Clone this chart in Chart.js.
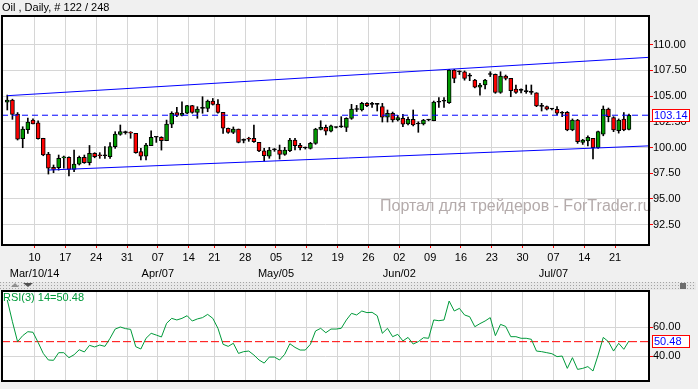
<!DOCTYPE html>
<html>
<head>
<meta charset="utf-8">
<script src="https://cdn.jsdelivr.net/npm/chart.js@4.4.1/dist/chart.umd.min.js"></script>
<style>
  body { margin:0; background:#f0f0f0; width:698px; height:389px; overflow:hidden; position:relative; }
  canvas { position:absolute; left:0; }
  #main { top:0; }
  #rsi { top:283px; }
  #sep { position:absolute; left:0; top:282px; width:696px; height:8px; background-color:#e8e8e8;
    background-image:url("data:image/svg+xml,%3Csvg xmlns='http://www.w3.org/2000/svg' width='3' height='3'%3E%3Crect width='1' height='1' fill='%23a4a4a4'/%3E%3C/svg%3E"); }
  .tri-up { position:absolute; left:11px; top:283px; width:0; height:0; border-left:4px solid transparent; border-right:4px solid transparent; border-bottom:4px solid #909090; }
  .tri-dn { position:absolute; left:23px; top:283px; width:0; height:0; border-left:5px solid transparent; border-right:5px solid transparent; border-top:4px solid #505050; }
  .ico { position:absolute; left:680px; top:283px; width:6px; height:6px; background:#6c6c6c; }
</style>
</head>
<body>
<div id="sep"></div><div class="tri-up"></div><div class="tri-dn"></div><div class="ico"></div>
<canvas id="main" width="698" height="282"></canvas>
<canvas id="rsi" width="698" height="106"></canvas>
<script>
// Oil daily candles, one entry per bar (122 bars)
const opens = [104.40,104.62,103.26,100.85,101.73,102.68,102.41,100.90,99.37,98.07,
  98.04,99.00,99.05,97.88,98.37,99.05,98.52,99.44,99.27,99.20,
  99.10,100.08,101.28,101.45,101.42,101.38,99.60,99.17,100.18,101.00,
  101.00,100.66,102.26,103.39,103.13,103.33,104.07,103.42,103.80,103.80,
  104.52,104.23,103.42,101.87,101.48,101.80,100.70,100.85,100.90,100.50,
  99.69,99.17,99.77,99.76,99.34,99.69,100.73,100.21,99.95,99.92,
  100.41,101.77,101.96,101.58,101.95,102.00,101.96,102.84,103.70,103.65,
  104.30,104.20,104.20,103.97,102.94,103.33,102.68,102.84,102.29,102.74,
  102.29,102.29,102.68,102.60,104.40,104.50,104.36,107.54,107.35,107.35,
  106.95,106.57,105.86,106.08,107.10,107.12,105.37,106.95,106.73,105.69,
  105.55,105.43,105.37,105.33,104.00,103.97,103.75,103.72,103.33,103.42,
  101.70,102.68,100.50,100.63,100.90,99.98,101.31,103.75,102.90,101.63,
  102.77,101.77];
const highs = [105.10,104.70,103.40,102.02,102.87,102.80,102.60,100.90,99.53,98.30,
  99.27,99.17,99.10,99.75,99.17,99.27,100.20,99.50,99.50,100.10,
  100.47,101.54,102.19,101.60,101.54,101.38,99.92,100.40,101.63,101.05,
  101.05,102.67,103.48,103.90,104.45,104.10,104.10,103.97,104.94,104.62,
  104.77,104.65,103.42,101.90,102.00,101.80,100.84,101.00,102.19,100.50,
  99.92,100.02,99.90,100.24,100.02,100.90,100.90,100.40,100.05,100.50,
  101.87,102.60,102.19,102.19,102.00,103.00,102.90,104.20,104.10,104.40,
  104.36,104.40,104.30,104.30,103.65,103.45,103.13,103.23,102.97,103.65,
  102.50,102.74,102.75,104.52,104.85,104.85,107.60,107.60,107.45,107.45,
  107.20,106.63,106.24,106.63,107.37,107.15,107.37,107.05,106.73,106.08,
  105.70,106.08,106.08,105.33,104.30,104.04,103.82,103.97,103.50,103.50,
  102.78,102.74,100.80,101.14,100.90,101.60,104.04,103.84,103.00,102.78,
  103.40,103.26];
const lows = [103.65,102.74,100.73,99.98,101.38,102.29,100.80,99.20,97.42,97.55,
  97.80,97.99,97.23,97.65,98.30,98.46,98.30,99.00,98.95,98.95,
  98.95,99.92,101.19,101.30,100.90,99.44,98.80,98.80,100.18,100.50,
  99.75,100.66,101.93,103.00,103.07,103.30,103.33,102.84,103.33,103.48,
  104.13,103.33,101.38,101.38,101.35,100.45,100.45,100.60,100.50,99.60,
  98.69,98.95,99.63,98.88,99.24,99.60,99.76,99.76,99.85,99.85,
  100.31,101.71,101.22,101.51,101.90,101.95,101.55,102.74,103.50,103.55,
  103.97,103.90,103.55,102.48,102.48,102.48,102.58,102.02,102.19,102.10,
  101.48,102.19,102.60,102.60,103.90,103.90,104.30,106.30,107.10,106.55,
  106.50,105.80,105.10,105.70,106.90,105.27,105.27,106.57,104.94,105.27,
  105.30,105.27,105.17,103.97,103.55,103.65,103.65,103.17,103.00,101.63,
  101.63,100.40,100.30,100.15,98.90,99.92,101.14,102.50,101.54,101.40,
  101.63,101.70];
const closes = [104.62,103.23,100.80,101.80,102.48,102.30,100.86,99.27,97.98,97.88,
  98.95,99.02,97.88,98.40,99.05,98.52,99.44,99.10,99.20,99.20,
  100.08,101.31,101.54,101.45,101.40,99.50,99.17,100.24,100.99,101.00,
  100.66,102.29,103.33,103.13,103.33,104.07,103.42,103.75,103.80,104.52,
  104.20,103.42,101.87,101.48,101.80,100.50,100.70,100.80,100.56,99.66,
  99.20,99.76,99.77,99.34,99.76,100.73,100.18,99.98,99.95,100.41,
  101.80,101.96,101.58,102.12,101.95,102.00,102.84,103.75,103.70,104.30,
  104.07,104.20,104.20,102.94,103.33,102.68,102.90,102.26,102.74,102.19,
  102.29,102.68,102.68,104.43,104.40,104.50,107.54,106.73,107.35,106.73,
  106.95,105.86,106.08,106.57,107.10,105.37,106.95,106.73,105.53,105.37,
  105.55,105.43,105.37,104.04,104.00,103.72,103.75,103.33,103.33,101.70,
  102.68,100.56,100.73,100.99,99.98,101.54,103.75,103.00,101.70,102.68,
  101.70,103.14];

// RSI(14), one value per bar
const rsi = [78.4,63.6,50.0,54.1,56.8,56.4,49.5,42.0,37.5,37.3,
  42.5,42.5,39.1,41.1,44.5,43.0,47.5,46.4,47.7,46.8,
  52.3,58.6,60.0,58.9,58.4,46.6,45.0,52.3,55.7,54.5,
  53.2,62.5,65.9,64.8,65.9,67.7,64.1,65.5,66.4,68.6,
  65.9,59.1,48.2,46.8,48.9,42.0,43.2,43.6,40.9,37.5,
  35.4,39.5,39.5,37.5,41.4,48.6,46.1,44.3,44.3,48.2,
  57.3,59.1,56.1,58.6,58.6,59.1,64.8,69.3,68.2,70.9,
  69.8,70.0,67.7,55.7,59.1,53.4,55.0,50.5,52.9,48.4,
  50.0,52.7,52.3,64.8,64.3,64.8,77.7,70.9,72.7,68.2,
  67.0,60.2,62.3,64.1,66.4,54.1,61.8,60.4,53.4,53.4,
  52.3,52.3,51.6,43.6,43.2,42.5,41.8,39.8,40.2,31.8,
  39.1,31.1,31.8,33.0,30.0,40.9,52.9,50.0,43.6,48.9,
  44.8,50.48];

// week ticks (bar index) and their labels
const tickIdx = [5,11,17,23,29,35,40,46,52,58,64,70,76,82,88,94,100,106,112,118];
const dayLabels = ['10','17','24','31','07','14','21','28','05','12','19','26','02','09','16','23','30','07','14','21'];
const monthLabels = ['Mar/10/14','','','','Apr/07','','','','May/05','','','','Jun/02','','','','','Jul/07','',''];
const priceTicks = [92.5,95,97.5,100,102.5,105,107.5,110];
const rsiTicks = [40,60];

// channel lines drawn on the chart (bar index, price)
const upperX = [0, 124.9], upperY = [105.04, 108.77];
const lowerX = [8, 124.9], lowerY = [97.81, 100.16];

const lastPrice = closes[closes.length - 1];
const lastRsi = rsi[rsi.length - 1];
const rsiLevel = 50;
const xMin = -1.03, xMax = 124.9;
const TICK_SHIFT = 0.3;

const FONT = '"Liberation Sans", Arial, sans-serif';
const GRID = '#d6d6d6';
const UP = '#009900', DOWN = '#ff0000';

const wicks = highs.map((h, i) => ({x: i, y: [lows[i], h]}));
const bodies = opens.map((o, i) => ({x: i, y: [o, closes[i]]}));
const bodyColors = opens.map((o, i) => closes[i] > o ? UP : (closes[i] < o ? DOWN : '#000'));

function valueBox(ctx, y, text) {
  ctx.fillStyle = '#fff';
  ctx.fillRect(652, Math.round(y) - 6, 38, 13);
  ctx.strokeStyle = '#ff0000';
  ctx.lineWidth = 1;
  ctx.strokeRect(652.5, Math.round(y) - 5.5, 37, 12);
  ctx.fillStyle = '#0000ff';
  ctx.font = '11px ' + FONT;
  ctx.textBaseline = 'middle';
  ctx.textAlign = 'left';
  ctx.fillText(text, 654, Math.round(y) + 0.5);
}

const mainDeco = {
  id: 'mainDeco',
  beforeDraw(chart) {
    const {ctx, chartArea: a} = chart;
    ctx.save();
    ctx.fillStyle = '#fff';
    ctx.fillRect(a.left, a.top, a.right - a.left, a.bottom - a.top);
    ctx.restore();
  },
  beforeDatasetsDraw(chart) {
    const ctx = chart.ctx;
    ctx.save();
    ctx.font = '16px ' + FONT;
    ctx.fillStyle = '#b4abab';
    ctx.fillText('Портал для трейдеров - ForTrader.ru', 380, 211);
    ctx.restore();
  },
  afterDraw(chart) {
    const {ctx, chartArea: a, scales} = chart;
    ctx.save();
    ctx.strokeStyle = '#000';
    ctx.lineWidth = 2;
    ctx.strokeRect(a.left, a.top, a.right - a.left, a.bottom - a.top);
    ctx.fillStyle = '#000';
    ctx.font = '11px ' + FONT;
    ctx.fillText('Oil , Daily, # 122 / 248', 2, 11);
    valueBox(ctx, scales.y.getPixelForValue(lastPrice), lastPrice.toFixed(2));
    ctx.restore();
  }
};

const rsiDeco = {
  id: 'rsiDeco',
  beforeDraw(chart) {
    const {ctx, chartArea: a} = chart;
    ctx.save();
    ctx.fillStyle = '#fff';
    ctx.fillRect(a.left, a.top, a.right - a.left, a.bottom - a.top);
    ctx.restore();
  },
  afterDraw(chart) {
    const {ctx, chartArea: a, scales} = chart;
    ctx.save();
    ctx.strokeStyle = '#000';
    ctx.lineWidth = 2;
    ctx.strokeRect(a.left, a.top, a.right - a.left, a.bottom - a.top);
    ctx.fillStyle = '#009a3a';
    ctx.font = '11px ' + FONT;
    ctx.textBaseline = 'alphabetic';
    ctx.fillText('RSI(3) 14=' + lastRsi.toFixed(2), 3, a.top + 10);
    valueBox(ctx, scales.y.getPixelForValue(lastRsi), lastRsi.toFixed(2));
    ctx.restore();
  }
};

const xScale = (showLabels) => ({
  type: 'linear', min: xMin, max: xMax, offset: false,
  grid: {color: GRID, tickColor: '#ff0000', tickLength: 3, offset: false, drawTicks: showLabels},
  border: {display: false},
  afterBuildTicks: s => { s.ticks = tickIdx.map(v => ({value: v + TICK_SHIFT})); },
  afterFit: s => { s.height = showLabels ? 37 : 0; },
  ticks: {
    display: showLabels, autoSkip: false, maxRotation: 0, padding: 2, color: '#000',
    font: {family: FONT, size: 11, lineHeight: '16px'},
    callback: (v, i) => [dayLabels[i], monthLabels[i]]
  }
});

new Chart(document.getElementById('main'), {
  type: 'bar',
  data: {
    datasets: [
      {type: 'line', data: upperX.map((x, i) => ({x, y: upperY[i]})), borderColor: '#0000ff', borderWidth: 1, pointRadius: 0, order: 0},
      {type: 'line', data: lowerX.map((x, i) => ({x, y: lowerY[i]})), borderColor: '#0000ff', borderWidth: 1, pointRadius: 0, order: 0},
      {type: 'line', data: [{x: xMin, y: lastPrice}, {x: xMax, y: lastPrice}], borderColor: '#0000ff', borderWidth: 1, borderDash: [6, 4], pointRadius: 0, order: 0},
      {type: 'bar', data: bodies, backgroundColor: bodyColors, borderColor: '#000', borderWidth: 1, borderSkipped: false,
        barThickness: 4, minBarLength: 1, grouped: false, order: 1},
      {type: 'bar', data: wicks, backgroundColor: '#000', borderWidth: 0, barThickness: 1, grouped: false, order: 2}
    ]
  },
  options: {
    responsive: false, animation: false, devicePixelRatio: 1,
    layout: {padding: {left: 2, top: 16, right: 0, bottom: 0}},
    plugins: {legend: {display: false}, tooltip: {enabled: false}},
    scales: {
      x: xScale(true),
      y: {
        position: 'right', min: 90.52, max: 112.79,
        grid: {color: GRID, tickColor: '#ff0000', tickLength: 4},
        border: {display: false},
        afterBuildTicks: s => { s.ticks = priceTicks.map(v => ({value: v})); },
        afterFit: s => { s.width = 49; },
        ticks: {padding: 0, color: '#000', font: {family: FONT, size: 11}, callback: v => v.toFixed(2)}
      }
    }
  },
  plugins: [mainDeco]
});

new Chart(document.getElementById('rsi'), {
  type: 'line',
  data: {
    datasets: [
      {data: rsi.map((v, i) => ({x: i, y: v})), borderColor: '#009a3a', borderWidth: 1, pointRadius: 0, tension: 0},
      {data: [{x: xMin, y: rsiLevel}, {x: xMax, y: rsiLevel}], borderColor: '#ff0000', borderWidth: 1, borderDash: [8, 3], pointRadius: 0}
    ]
  },
  options: {
    responsive: false, animation: false, devicePixelRatio: 1,
    layout: {padding: {left: 2, top: 8, right: 0, bottom: 8}},
    plugins: {legend: {display: false}, tooltip: {enabled: false}},
    scales: {
      x: xScale(false),
      y: {
        position: 'right', min: 23.19, max: 84.54,
        grid: {color: GRID, tickColor: '#ff0000', tickLength: 4},
        border: {display: false},
        afterBuildTicks: s => { s.ticks = rsiTicks.map(v => ({value: v})); },
        afterFit: s => { s.width = 49; },
        ticks: {padding: 0, color: '#000', font: {family: FONT, size: 11}, callback: v => v.toFixed(2)}
      }
    }
  },
  plugins: [rsiDeco]
});
</script>
</body>
</html>
